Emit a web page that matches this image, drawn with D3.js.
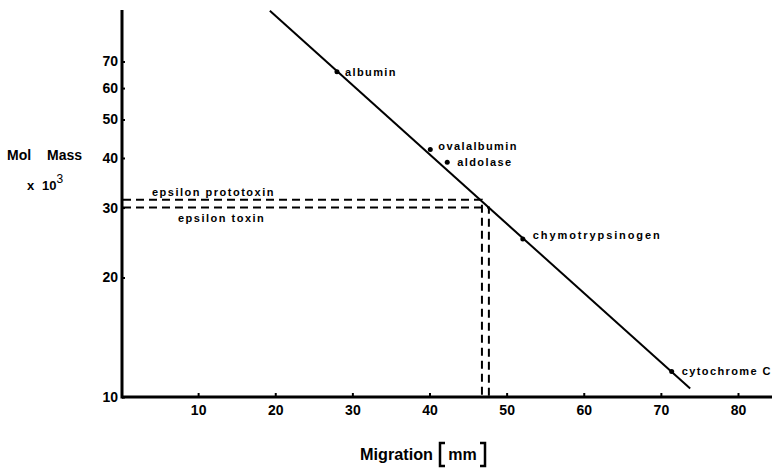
<!DOCTYPE html>
<html>
<head>
<meta charset="utf-8">
<script src="https://cdn.jsdelivr.net/npm/d3@7"></script>
<style>
  body { margin: 0; background: #fff; }
  svg text { font-family: "Liberation Sans", Arial, sans-serif; font-weight: bold; fill: #000; }
</style>
</head>
<body>
<script>
// marker proteins: migration (mm) vs mol mass (x 10^3)
const proteins = ["albumin", "ovalalbumin", "aldolase", "chymotrypsinogen", "cytochrome C"];
const migration = [28.0, 40.1, 42.3, 52.1, 71.4];
const molMass = [66, 42, 39, 25, 11.6];

// fitted calibration line end points
const fitX = [19.3, 73.8];
const fitY = [94, 10.5];

// toxins
const toxins = ["epsilon prototoxin", "epsilon toxin"];
const toxinX = [46.8, 47.7];
const toxinY = [31.4, 30.0];

const xTicks = [10, 20, 30, 40, 50, 60, 70, 80];
const yTicks = [10, 20, 30, 40, 50, 60, 70];

const width = 775, height = 469;

const svg = d3.select("body").append("svg")
    .attr("width", width)
    .attr("height", height);

const x = d3.scaleLinear().domain([0, 80]).range([121, 738]);
const y = d3.scaleLog().domain([10, 100]).range([397, 0]);

// axes
const xAxis = svg.append("g")
    .attr("transform", `translate(0,${y(10)})`)
    .call(d3.axisBottom(x).tickValues(xTicks).tickSize(-4).tickPadding(8).tickSizeOuter(0));
xAxis.select(".domain").remove();
xAxis.append("line")
    .attr("x1", x(0) + 1).attr("x2", 772)
    .attr("stroke", "#000").attr("stroke-width", 3);
xAxis.selectAll(".tick line").attr("stroke-width", 2);
xAxis.selectAll("text").style("font-size", "14px");

const yAxis = svg.append("g")
    .attr("transform", `translate(${x(0) + 1},0)`)
    .call(d3.axisLeft(y).tickValues(yTicks).tickFormat(d3.format("d")).tickSize(-3).tickPadding(4).tickSizeOuter(0));
yAxis.select(".domain").remove();
yAxis.append("line")
    .attr("y1", 10).attr("y2", y(10) + 1.5)
    .attr("stroke", "#000").attr("stroke-width", 3);
yAxis.selectAll(".tick line").attr("stroke-width", 2);
yAxis.selectAll("text").style("font-size", "14px");

// axis titles
const t1 = svg.append("text").attr("y", 160).style("font-size", "14px");
t1.append("tspan").attr("x", 7).text("Mol");
t1.append("tspan").attr("x", 47).text("Mass");
const yl = svg.append("text").attr("y", 190).style("font-size", "13px");
yl.append("tspan").attr("x", 27).text("x");
yl.append("tspan").attr("x", 42).text("10");
yl.append("tspan").attr("dy", -7).style("font-size", "12px").attr("font-weight", "normal").text("3");

svg.append("text").attr("x", 360).attr("y", 460)
    .style("font-size", "16px")
    .attr("textLength", 73).attr("lengthAdjust", "spacingAndGlyphs")
    .text("Migration");
// bracketed unit
const bx = 440;
svg.append("path")
    .attr("d", `M${bx + 5},443 H${bx} V466 H${bx + 5} M${bx + 40},443 H${bx + 45} V466 H${bx + 40}`)
    .attr("fill", "none").attr("stroke", "#000").attr("stroke-width", 2.5);
svg.append("text").attr("x", bx + 22.5).attr("y", 460).attr("text-anchor", "middle")
    .style("font-size", "16px").text("mm");

// dashed read-off lines
toxins.forEach((t, i) => {
    svg.append("path")
        .attr("d", d3.line()([[x(0) + 2, y(toxinY[i])], [x(toxinX[i]), y(toxinY[i])], [x(toxinX[i]), y(10)]]))
        .attr("fill", "none").attr("stroke", "#000")
        .attr("stroke-width", 2).attr("stroke-dasharray", "8,5");
});
svg.append("text").attr("x", 152).attr("y", 196)
    .style("font-size", "11px").attr("letter-spacing", 1.5).text(toxins[0]);
svg.append("text").attr("x", 178).attr("y", 222)
    .style("font-size", "11px").attr("letter-spacing", 1.5).text(toxins[1]);

// calibration line
svg.append("line")
    .attr("x1", x(fitX[0])).attr("y1", y(fitY[0]))
    .attr("x2", x(fitX[1])).attr("y2", y(fitY[1]))
    .attr("stroke", "#000").attr("stroke-width", 2);

// marker points + labels
const labelDx = [8, 8, 10, 10, 10];
const labelDy = [4, 0, 4, 0, 4];
svg.selectAll("circle.pt")
    .data(proteins)
    .join("circle")
    .attr("class", "pt")
    .attr("cx", (d, i) => x(migration[i]))
    .attr("cy", (d, i) => y(molMass[i]))
    .attr("r", 2.5);

svg.selectAll("text.lab")
    .data(proteins)
    .join("text")
    .attr("class", "lab")
    .attr("x", (d, i) => x(migration[i]) + labelDx[i])
    .attr("y", (d, i) => y(molMass[i]) + labelDy[i])
    .style("font-size", "11px")
    .attr("letter-spacing", (d, i) => i === 3 ? 1.9 : 1.4)
    .text(d => d);
</script>
</body>
</html>
